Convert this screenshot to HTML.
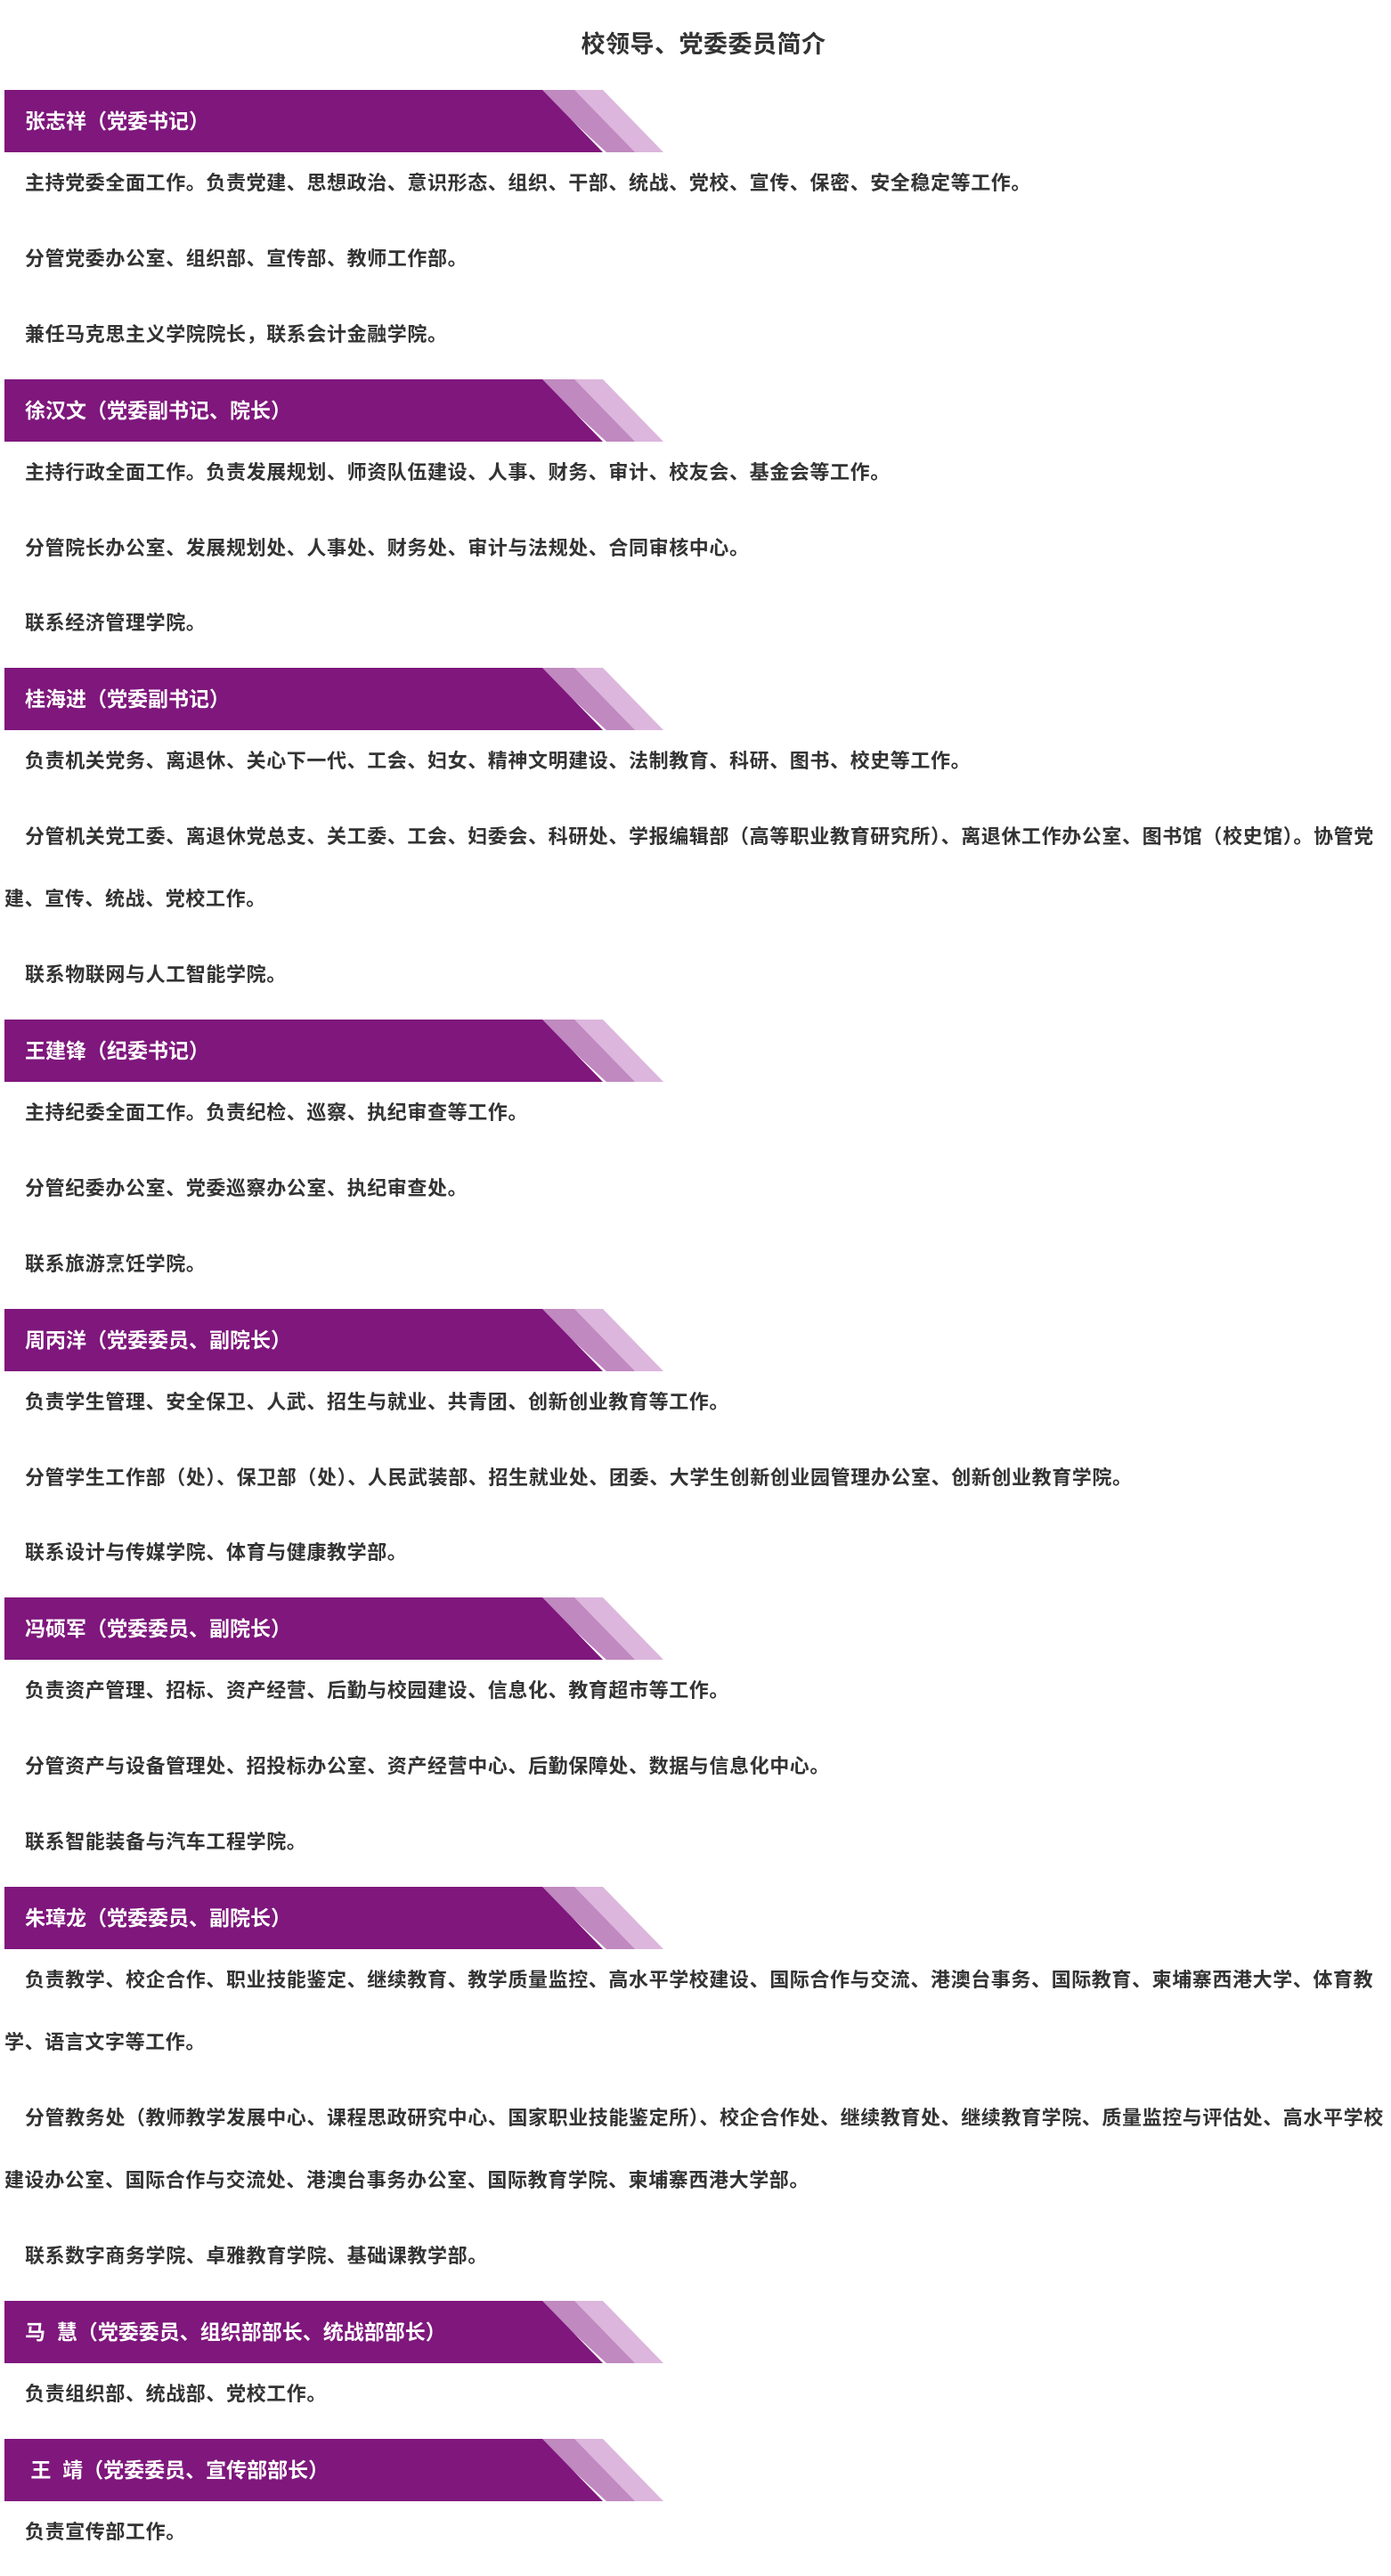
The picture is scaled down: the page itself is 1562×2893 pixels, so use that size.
<!DOCTYPE html>
<html><head><meta charset="utf-8"><style>
html,body{margin:0;padding:0;background:#fff;}
body{width:1562px;height:2882px;overflow:hidden;position:relative;font-family:"Liberation Sans","Noto Sans CJK SC",sans-serif;color:#333;}
.title{position:absolute;top:30px;left:0;width:1580px;text-align:center;font-size:27px;font-weight:bold;line-height:40px;color:#333;letter-spacing:0.5px;}
.wrap{position:absolute;top:101px;left:5px;width:1550px;}
.bn{position:relative;height:70px;width:740px;}
.bn svg{position:absolute;left:0;top:0;}
.bn span{position:absolute;left:23px;top:0;line-height:70px;font-size:23px;font-weight:bold;color:#fff;white-space:pre;}
p{margin:0 0 14.9px 0;line-height:70px;font-size:22px;font-weight:bold;white-space:nowrap;letter-spacing:0.6px;}
p.i{padding-left:23px;}
</style></head><body>
<div class="title">校领导、党委委员简介</div>
<div class="wrap">
<div class="bn"><svg width="740" height="70"><polygon points="600,0 672,0 740,70 676,70" fill="#dcb6dc"/><polygon points="600,0 640,0 708,70 676,70" fill="#c089c0"/><polygon points="0,0 604,0 672,70 0,70" fill="#7f177c"/></svg><span>张志祥（党委书记）</span></div>
<p class="i">主持党委全面工作。负责党建、思想政治、意识形态、组织、干部、统战、党校、宣传、保密、安全稳定等工作。</p>
<p class="i">分管党委办公室、组织部、宣传部、教师工作部。</p>
<p class="i">兼任马克思主义学院院长，联系会计金融学院。</p>
<div class="bn"><svg width="740" height="70"><polygon points="600,0 672,0 740,70 676,70" fill="#dcb6dc"/><polygon points="600,0 640,0 708,70 676,70" fill="#c089c0"/><polygon points="0,0 604,0 672,70 0,70" fill="#7f177c"/></svg><span>徐汉文（党委副书记、院长）</span></div>
<p class="i">主持行政全面工作。负责发展规划、师资队伍建设、人事、财务、审计、校友会、基金会等工作。</p>
<p class="i">分管院长办公室、发展规划处、人事处、财务处、审计与法规处、合同审核中心。</p>
<p class="i">联系经济管理学院。</p>
<div class="bn"><svg width="740" height="70"><polygon points="600,0 672,0 740,70 676,70" fill="#dcb6dc"/><polygon points="600,0 640,0 708,70 676,70" fill="#c089c0"/><polygon points="0,0 604,0 672,70 0,70" fill="#7f177c"/></svg><span>桂海进（党委副书记）</span></div>
<p class="i">负责机关党务、离退休、关心下一代、工会、妇女、精神文明建设、法制教育、科研、图书、校史等工作。</p>
<p><span style="padding-left:23px">分管机关党工委、离退休党总支、关工委、工会、妇委会、科研处、学报编辑部（高等职业教育研究所）、离退休工作办公室、图书馆（校史馆）。协管党</span><br>建、宣传、统战、党校工作。</p>
<p class="i">联系物联网与人工智能学院。</p>
<div class="bn"><svg width="740" height="70"><polygon points="600,0 672,0 740,70 676,70" fill="#dcb6dc"/><polygon points="600,0 640,0 708,70 676,70" fill="#c089c0"/><polygon points="0,0 604,0 672,70 0,70" fill="#7f177c"/></svg><span>王建锋（纪委书记）</span></div>
<p class="i">主持纪委全面工作。负责纪检、巡察、执纪审查等工作。</p>
<p class="i">分管纪委办公室、党委巡察办公室、执纪审查处。</p>
<p class="i">联系旅游烹饪学院。</p>
<div class="bn"><svg width="740" height="70"><polygon points="600,0 672,0 740,70 676,70" fill="#dcb6dc"/><polygon points="600,0 640,0 708,70 676,70" fill="#c089c0"/><polygon points="0,0 604,0 672,70 0,70" fill="#7f177c"/></svg><span>周丙洋（党委委员、副院长）</span></div>
<p class="i">负责学生管理、安全保卫、人武、招生与就业、共青团、创新创业教育等工作。</p>
<p class="i">分管学生工作部（处）、保卫部（处）、人民武装部、招生就业处、团委、大学生创新创业园管理办公室、创新创业教育学院。</p>
<p class="i">联系设计与传媒学院、体育与健康教学部。</p>
<div class="bn"><svg width="740" height="70"><polygon points="600,0 672,0 740,70 676,70" fill="#dcb6dc"/><polygon points="600,0 640,0 708,70 676,70" fill="#c089c0"/><polygon points="0,0 604,0 672,70 0,70" fill="#7f177c"/></svg><span>冯硕军（党委委员、副院长）</span></div>
<p class="i">负责资产管理、招标、资产经营、后勤与校园建设、信息化、教育超市等工作。</p>
<p class="i">分管资产与设备管理处、招投标办公室、资产经营中心、后勤保障处、数据与信息化中心。</p>
<p class="i">联系智能装备与汽车工程学院。</p>
<div class="bn"><svg width="740" height="70"><polygon points="600,0 672,0 740,70 676,70" fill="#dcb6dc"/><polygon points="600,0 640,0 708,70 676,70" fill="#c089c0"/><polygon points="0,0 604,0 672,70 0,70" fill="#7f177c"/></svg><span>朱璋龙（党委委员、副院长）</span></div>
<p><span style="padding-left:23px">负责教学、校企合作、职业技能鉴定、继续教育、教学质量监控、高水平学校建设、国际合作与交流、港澳台事务、国际教育、柬埔寨西港大学、体育教</span><br>学、语言文字等工作。</p>
<p><span style="padding-left:23px">分管教务处（教师教学发展中心、课程思政研究中心、国家职业技能鉴定所）、校企合作处、继续教育处、继续教育学院、质量监控与评估处、高水平学校</span><br>建设办公室、国际合作与交流处、港澳台事务办公室、国际教育学院、柬埔寨西港大学部。</p>
<p class="i">联系数字商务学院、卓雅教育学院、基础课教学部。</p>
<div class="bn"><svg width="740" height="70"><polygon points="600,0 672,0 740,70 676,70" fill="#dcb6dc"/><polygon points="600,0 640,0 708,70 676,70" fill="#c089c0"/><polygon points="0,0 604,0 672,70 0,70" fill="#7f177c"/></svg><span>马  慧（党委委员、组织部部长、统战部部长）</span></div>
<p class="i">负责组织部、统战部、党校工作。</p>
<div class="bn"><svg width="740" height="70"><polygon points="600,0 672,0 740,70 676,70" fill="#dcb6dc"/><polygon points="600,0 640,0 708,70 676,70" fill="#c089c0"/><polygon points="0,0 604,0 672,70 0,70" fill="#7f177c"/></svg><span> 王  靖（党委委员、宣传部部长）</span></div>
<p class="i">负责宣传部工作。</p>
</div>
</body></html>
